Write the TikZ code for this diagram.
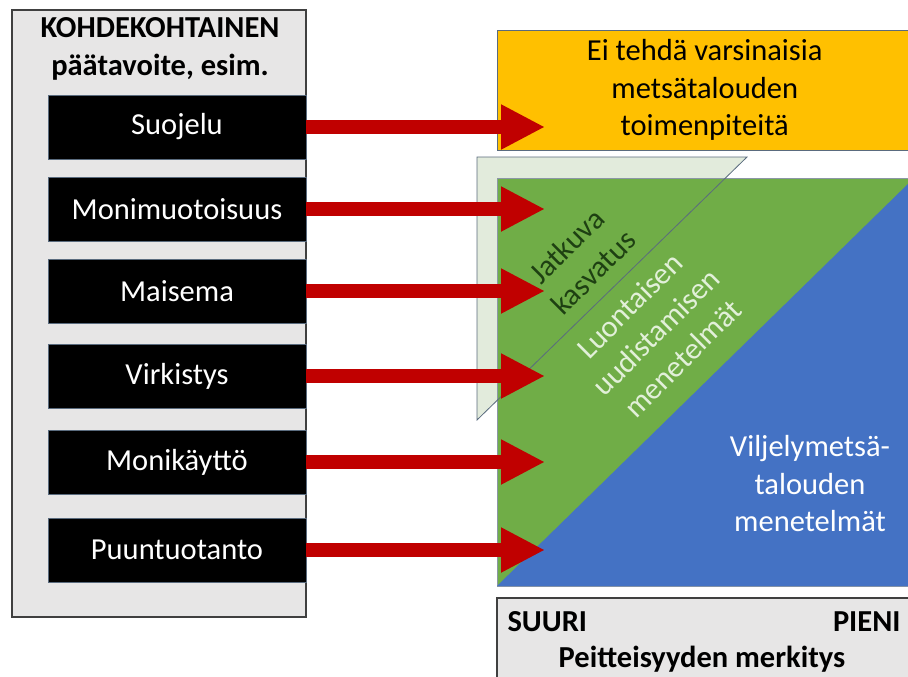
\documentclass[tikz,border=0pt]{standalone}
\usepackage{fontspec}
\setmainfont{Carlito}
\usetikzlibrary{arrows.meta}
\definecolor{punainen}{HTML}{C00000}
\definecolor{oranssi}{HTML}{FFC000}
\definecolor{vihrea}{HTML}{70AD47}
\definecolor{sininen}{HTML}{4472C4}
\definecolor{vaalea}{HTML}{E2EBDC}
\definecolor{harmaa}{HTML}{E7E6E6}
\definecolor{tummavihrea}{HTML}{1E4012}
\definecolor{haalea}{HTML}{E2F0D9}
\definecolor{reuna}{HTML}{5A6B7E}
\begin{document}
\begin{tikzpicture}[x=1pt,y=-1pt,
		teksti/.style={font=\fontsize{30.5}{37.5}\selectfont},
		lihava/.style={font=\fontsize{30.5}{37.5}\selectfont\bfseries},
		tavoite/.style={teksti,draw=reuna,fill=black,text=white,minimum width=258pt,minimum height=64pt,inner sep=0pt},
		nuoli/.style={punainen,line width=14pt,-{Triangle[length=44pt,width=42pt]}}]
		\useasboundingbox (0,0) rectangle (908,677);
		\draw[black!75,fill=harmaa,line width=1.2pt] (12,10) rectangle (306,617);%vasen laatikko
		\node[lihava,align=center] (otsikko) at (160,49) {KOHDEKOHTAINEN\\päätavoite, esim.};
		\foreach \y/\n/\t in {127/suojelu/Suojelu,209/monimuoto/Monimuotoisuus,291/maisema/Maisema,376/virkistys/Virkistys,462/monikaytto/Monikäyttö,550/puuntuotanto/Puuntuotanto}{
			\node[tavoite] (\n) at (177,\y) {\t};
			\coordinate (\n-karki) at (545,\y);}
		
		\node[teksti,draw=reuna,fill=oranssi,minimum width=415pt,minimum height=120pt,inner sep=0pt,align=center,anchor=north west] (eitehda) at (497,30) {Ei tehdä varsinaisia\\metsätalouden\\toimenpiteitä};
		
		\fill[vaalea] (477,157) -- (747,157) -- (477,420) -- cycle;%jatkuva kasvatus
		\draw[reuna!70,fill=vihrea] (497,178) rectangle (912,586);
		\fill[sininen] (497,586) -- (912,586) -- (912,180) -- cycle;
		\draw[reuna,line width=0.8pt] (477,157) -- (747,157) -- (477,420) -- cycle;
		
		\node[teksti,rotate=45,align=center,text=tummavihrea] (jatkuva) at (580,259) {Jatkuva\\kasvatus};
		\node[teksti,rotate=45,align=center,text=haalea] (luontainen) at (656,332) {Luontaisen\\uudistamisen\\menetelmät};
		\node[teksti,align=center,text=white] (viljely) at (810,484) {Viljelymetsä-\\talouden\\menetelmät};
		
		\draw[black!75,fill=harmaa,line width=1.2pt] (497,598) rectangle (912,680);%peitteisyys
		\node[lihava,anchor=west] (suuri) at (504,622) {SUURI};
		\node[lihava,anchor=east] (pieni) at (904,622) {PIENI};
		\node[lihava] (merkitys) at (702,659) {Peitteisyyden merkitys};
		
		\foreach \n in {suojelu,monimuoto,maisema,virkistys,monikaytto,puuntuotanto}{
			\draw[nuoli] (\n.east) to (\n-karki);}
	\end{tikzpicture}
\end{document}
